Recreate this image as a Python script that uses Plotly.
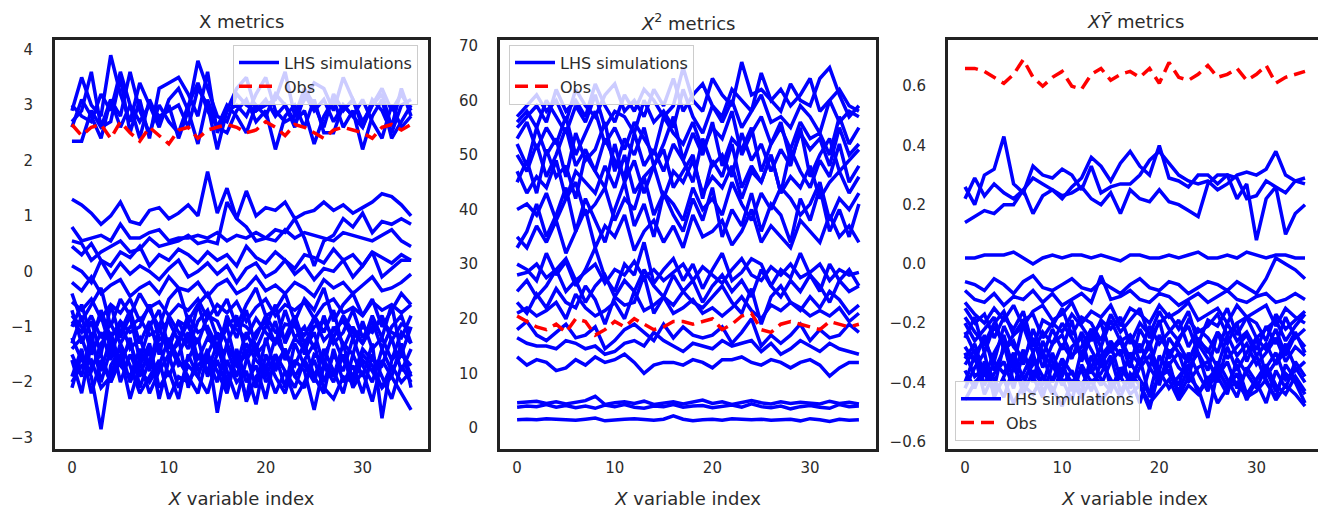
import plotly.graph_objects as go

x_index = list(range(36))
x_ticks = [0, 10, 20, 30]

# ---------------- Panel 1: X metrics ----------------
x_sims = [
    [2.9,3.5,3.0,2.8,3.9,3.2,2.7,3.4,3.0,2.6,3.1,3.3,2.9,3.8,3.3,2.8,2.7,3.2,3.0,2.9,3.1,2.8,3.0,2.6,3.2,2.9,3.1,2.7,3.0,2.8,2.6,3.1,2.9,2.5,3.0,3.1],
    [2.35,2.35,2.9,2.6,2.7,3.5,2.5,3.1,2.4,3.3,3.4,3.5,3.2,2.8,3.6,2.5,2.9,3.0,2.8,3.2,3.5,2.9,2.7,2.8,3.3,3.0,2.6,3.2,2.9,3.1,2.7,3.0,3.2,2.6,3.3,2.8],
    [2.7,2.9,3.6,2.6,3.1,2.8,3.6,2.9,2.5,3.0,2.7,2.5,3.0,3.4,2.9,2.6,2.5,2.9,3.1,2.7,2.9,2.2,2.8,3.0,2.6,3.1,2.5,2.5,3.0,2.8,3.1,2.7,2.4,3.0,2.6,2.8],
    [3.0,2.8,2.7,3.2,2.9,3.6,3.0,2.7,3.0,2.8,2.9,3.0,2.6,3.3,3.0,2.2,2.9,3.3,3.5,2.9,3.0,3.1,3.6,2.8,3.1,3.4,3.3,2.9,3.5,3.1,2.6,3.0,3.3,2.9,3.2,2.9],
    [2.6,3.1,2.8,2.4,3.1,2.6,3.0,2.4,3.1,2.7,3.0,2.4,2.9,2.3,3.1,2.6,3.0,2.8,2.5,3.0,2.8,3.2,3.0,2.7,2.9,2.3,2.8,3.1,2.6,2.9,2.2,2.8,3.1,2.4,2.7,3.0],
    [1.3,1.2,1.05,0.85,1.0,1.25,0.9,0.85,1.1,1.15,0.95,1.05,1.2,1.0,1.8,1.05,1.5,0.95,1.45,1.0,1.15,1.1,1.25,0.95,1.05,1.1,1.25,1.1,1.2,1.05,1.15,1.25,1.4,1.35,1.2,1.0],
    [0.8,0.55,0.6,0.65,0.55,0.85,0.6,0.6,0.7,0.75,0.55,0.6,0.6,0.65,0.6,0.7,0.55,0.65,0.6,0.7,0.6,0.55,0.75,0.6,0.7,0.65,0.6,0.55,0.7,0.65,0.6,0.55,0.65,0.75,0.55,0.45],
    [0.55,0.5,0.2,0.35,0.45,0.55,0.35,0.4,0.6,0.45,0.5,0.55,0.65,0.5,0.55,0.5,1.25,0.95,0.8,0.55,0.6,0.75,0.7,0.95,0.6,0.1,0.55,0.65,0.95,0.8,1.05,0.7,0.9,0.85,0.95,0.85],
    [0.45,0.3,0.5,0.2,0.1,0.35,0.25,0.45,0.1,0.3,0.2,0.4,0.3,0.15,0.35,0.2,0.3,0.1,0.45,0.25,0.15,0.35,0.2,0.05,0.3,0.25,0.15,0.4,0.2,0.3,0.1,0.35,0.25,0.15,0.3,0.2],
    [0.1,0.0,-0.2,0.2,-0.1,0.15,-0.05,0.1,0.0,-0.15,0.05,0.2,-0.1,0.0,0.15,-0.05,0.1,-0.2,0.05,0.15,-0.1,0.0,0.2,-0.05,0.1,-0.15,0.05,0.0,0.2,-0.1,0.1,0.35,-0.1,0.05,0.2,0.2],
    [-0.2,-0.35,-0.1,-0.4,-0.25,-0.15,-0.45,-0.3,-0.2,-0.4,-0.1,-0.3,-0.35,-0.2,-0.45,-0.25,-0.15,-0.4,-0.3,-0.1,-0.35,-0.25,-0.4,-0.2,-0.3,-0.45,-0.15,-0.3,-0.2,-0.4,-0.25,-0.1,-0.35,-0.3,-0.2,-0.05],
    [-0.55,-0.7,-0.5,-0.85,-0.6,-0.75,-0.5,-0.9,-0.65,-0.55,-0.8,-0.6,-0.7,-0.5,-0.85,-0.6,-0.75,-0.55,-0.9,-0.65,-0.5,-0.8,-0.6,-0.7,-0.55,-0.85,-0.6,-0.5,-0.75,-0.65,-0.8,-0.55,-0.7,-0.6,-0.75,-0.6],
    [-0.9,-1.1,-0.8,-1.2,-0.95,-1.3,-1.0,-0.85,-1.15,-1.05,-0.9,-1.25,-0.8,-1.1,-1.0,-1.35,-0.9,-1.05,-1.2,-0.85,-1.1,-1.3,-0.95,-1.0,-1.15,-0.85,-1.25,-1.05,-0.9,-1.2,-1.0,-1.1,-0.8,-1.25,-0.95,-1.05],
    [-1.3,-0.8,-1.5,-1.1,-1.6,-0.9,-1.4,-1.2,-1.7,-1.0,-1.5,-1.3,-0.9,-1.6,-1.2,-1.4,-1.0,-1.7,-1.1,-1.5,-1.3,-0.9,-1.6,-1.2,-1.4,-1.1,-1.7,-1.0,-1.3,-1.5,-0.9,-1.4,-1.2,-1.6,-1.1,-1.3],
    [-2.1,-1.5,-1.9,-2.85,-1.7,-1.4,-2.0,-1.6,-2.2,-1.8,-1.5,-2.1,-1.7,-1.9,-1.4,-2.55,-1.6,-2.0,-1.8,-2.4,-1.5,-1.9,-2.2,-1.6,-1.8,-2.5,-1.7,-2.0,-1.5,-2.1,-1.8,-2.35,-1.6,-1.9,-2.2,-2.5],
    [-1.6,-2.2,-1.3,-1.8,-1.2,-2.0,-1.5,-1.9,-1.4,-2.3,-1.6,-1.2,-2.1,-1.5,-1.8,-1.3,-2.0,-1.6,-2.3,-1.4,-1.9,-1.5,-2.1,-1.3,-1.7,-2.0,-1.4,-1.8,-2.2,-1.5,-1.9,-1.3,-2.65,-1.6,-1.4,-1.9],
    [-0.7,-1.3,-0.9,-1.5,-0.6,-1.2,-0.8,-1.6,-1.0,-0.7,-1.4,-0.9,-1.3,-0.6,-1.1,-1.5,-0.8,-1.2,-0.7,-1.4,-1.0,-0.6,-1.3,-0.9,-1.5,-0.8,-1.1,-0.7,-1.4,-1.0,-1.3,-0.8,-1.2,-0.6,-1.5,-1.0],
    [-1.9,-1.4,-2.2,-1.6,-2.0,-1.5,-2.3,-1.7,-1.3,-2.1,-1.8,-2.3,-1.5,-1.9,-2.2,-1.6,-2.1,-1.4,-2.0,-1.7,-2.3,-1.5,-1.8,-2.1,-1.6,-1.9,-2.2,-1.4,-2.0,-1.7,-2.2,-1.5,-1.9,-2.3,-1.7,-2.0],
    [-1.0,-0.6,-1.2,-0.8,-1.4,-1.1,-0.7,-1.3,-0.9,-1.5,-0.8,-1.1,-1.4,-0.9,-0.7,-1.2,-1.0,-0.8,-1.5,-1.1,-0.9,-1.3,-0.7,-1.2,-1.0,-1.4,-0.8,-1.3,-1.1,-0.7,-1.2,-0.9,-1.4,-1.0,-0.8,-1.3],
    [-1.5,-1.9,-1.1,-2.0,-1.4,-1.7,-1.2,-2.1,-1.6,-1.3,-1.9,-1.5,-1.1,-1.8,-1.6,-2.0,-1.3,-1.7,-1.5,-2.1,-1.2,-1.8,-1.4,-1.9,-1.6,-1.3,-2.0,-1.5,-1.8,-1.2,-1.7,-2.0,-1.4,-1.8,-1.5,-1.7],
    [-0.4,-0.9,-0.6,-0.3,-1.0,-0.5,-0.8,-0.4,-0.7,-1.0,-0.5,-0.3,-0.9,-0.6,-0.4,-0.8,-0.5,-1.0,-0.6,-0.3,-0.8,-0.7,-0.4,-0.9,-0.5,-0.7,-0.3,-0.9,-0.6,-0.4,-0.8,-0.5,-1.0,-0.7,-0.4,-0.6],
    [-1.2,-1.6,-1.8,-1.3,-1.1,-1.7,-1.9,-1.4,-1.8,-1.2,-1.3,-1.7,-1.6,-1.2,-1.9,-1.5,-1.4,-1.9,-1.3,-1.6,-1.8,-1.2,-1.5,-1.7,-1.3,-1.9,-1.5,-1.2,-1.6,-1.9,-1.4,-1.6,-1.7,-1.2,-1.8,-1.4],
    [-2.0,-1.7,-1.6,-2.1,-1.9,-1.3,-1.7,-2.2,-1.9,-1.6,-2.3,-1.9,-2.0,-1.7,-1.5,-1.8,-2.2,-1.5,-2.35,-1.9,-1.7,-2.2,-1.8,-2.3,-2.0,-1.6,-2.1,-2.3,-1.9,-2.0,-1.6,-1.8,-2.1,-1.7,-2.0,-1.8],
    [-0.8,-1.0,-1.3,-0.7,-1.2,-0.9,-1.1,-1.0,-0.6,-1.2,-1.3,-0.9,-1.0,-1.3,-0.8,-0.9,-1.3,-0.9,-1.0,-1.2,-0.8,-1.1,-1.2,-0.8,-1.3,-1.0,-0.9,-1.2,-0.8,-1.1,-1.3,-1.0,-0.9,-1.1,-1.2,-0.8],
    [-1.4,-1.2,-1.7,-1.5,-2.0,-1.6,-1.3,-1.8,-2.0,-1.7,-1.2,-1.6,-1.9,-2.2,-1.5,-1.1,-1.8,-2.3,-1.6,-1.3,-2.0,-1.7,-1.4,-1.9,-2.1,-1.5,-1.6,-1.9,-1.3,-2.0,-1.5,-1.7,-2.1,-1.9,-1.3,-2.1],
]
x_obs = [2.65,2.45,2.6,2.65,2.4,2.7,2.5,2.35,2.6,2.45,2.3,2.55,2.6,2.4,2.55,2.6,2.65,2.6,2.5,2.55,2.7,2.6,2.45,2.65,2.6,2.5,2.4,2.55,2.6,2.55,2.5,2.4,2.6,2.65,2.55,2.65]

# ---------------- Panel 2: X^2 metrics ----------------
x2_sims = [
    [1.5,1.6,1.5,1.7,1.6,1.5,1.4,1.6,1.8,1.3,1.5,1.6,1.7,1.5,1.4,1.6,2.2,1.6,1.3,1.5,1.6,1.4,1.7,1.6,1.5,1.6,1.4,1.5,1.6,1.3,1.7,1.5,1.2,1.6,1.4,1.5],
    [3.8,4.0,3.9,4.3,3.8,4.1,3.7,4.0,3.6,4.2,3.9,4.3,3.8,3.6,4.0,3.9,4.3,3.8,4.0,4.1,3.7,3.9,4.2,3.8,4.4,3.9,3.7,4.0,3.5,3.9,4.1,3.8,3.6,4.3,3.9,4.0],
    [4.6,4.8,4.9,4.5,4.8,4.4,4.7,5.0,5.8,4.3,4.6,4.8,4.5,4.9,4.3,4.6,4.8,4.4,4.7,5.1,4.5,4.8,4.3,4.7,5.0,4.6,4.4,4.8,4.5,4.7,4.6,4.4,4.9,4.5,4.7,4.4],
    [13,11.5,12.5,12,10.5,11,12.5,11.5,13,12,12.5,13.5,12,10,11.5,12,12,11.5,12.5,12,11,12.5,12.5,13,12,11.5,12.5,12,11,12,12.5,11.5,9.5,11,12,12],
    [16.5,15.5,15,15,14.5,16,15.5,14.5,15,13.5,14,15.5,16,15,17.5,16,15,14,15.5,15,14.5,16,15,15.5,16,14,15.5,13.5,14.5,16,15,14,15.5,14.5,14,13.5],
    [18,19.5,17,16,17.5,19,16.5,17,18.5,14.5,16,18,19,17.5,16,19,16.5,18.5,17,16.5,17,18.5,15.5,17.5,20,15,17,15.5,17,19,16,18,16.5,17,19,17.5],
    [21,22,20.5,21.5,23,20,24.5,22,20.5,21.5,23,20,25,21.5,22.5,24,21,22,23.5,21,22,20.5,22,24,21.5,20,22.5,21.5,23,22,20.5,21.5,20.5,22,19.5,21],
    [23,21,24.5,22,25.5,23,22,26,23.5,19,24,22.5,23,28,21,24,22.5,25,23,22,24,26,23,21,25.5,19,24,26,23,21.5,24,22,25,23.5,21,22.5],
    [28,28.5,30,27.5,29,31,27,28.5,30,26.5,29,28,30.5,27.5,29,27,28.5,30,27,29.5,28,26.5,29,31,28,27,29.5,28,30,27.5,28.5,30,27,29,28,28.5],
    [30,29,27,32,28,30.5,26,29,33,27.5,25,30,28,34,26.5,29,31,27,30,25.5,29,32,27,28.5,31,30,26,29,27.5,32,28,25,30,27,29,26],
    [35,33,37,34,38,32,36,40,33,37,35,39,32.5,36,38,34,37,33,39,35,36,38,33.5,36,40,34,37,35,33,38,36,34,39,35,37,34],
    [40,41,39,43,38,42,45,39,41,44,38,42,40,46,39,43,41,38,44,40,42,39,45,41,38,43,40,44,42,39,41,45,38,42,40,43],
    [47,43,46,44,49,42,47,45,43,48,44,50,43,46,48,42,47,45,49,43,46,44,48,42,47,45,50,43,46,44,48,42,45,47,43,46],
    [50,47,52,46,50,55,48,51,47,53,49,46,54,48,51,47,52,49,45,53,48,50,46,54,49,52,47,51,48,55,46,50,53,47,49,51],
    [53,56,51,55,52,57,50,54,58,52,55,51,56,53,50,57,54,52,56,51,55,53,58,50,54,57,52,55,51,56,53,54,50,57,52,55],
    [56,58,55,60,57,54,59,56,61,55,58,57,54,60,56,58,55,62,57,54,59,56,60,55,58,61,56,57,55,59,57,54,60,56,58,57],
    [55,57,59,56,62,58,60,57,63,59,56,61,58,62,60,57,59,66,60,58,64,61,59,67,61,62,60,58,63,60,59,64,66,61,57,59],
    [52,48,55,50,53,46,54,49,51,56,47,53,50,55,48,52,57,49,54,50,56,48,53,51,55,47,52,56,49,54,51,53,48,55,50,52],
    [33,36,41,35,39,44,36,42,38,34,40,45,37,41,35,43,39,36,42,38,44,35,40,37,43,36,41,39,34,42,38,44,36,40,35,41],
    [25,27,24,26,29,25,27,23,26,28,24,27,25,29,26,24,28,25,27,23,26,28,25,27,24,29,26,24,27,25,28,26,23,27,25,26],
    [45,49,43,51,46,48,42,50,47,44,52,45,49,43,48,51,44,47,50,42,49,46,52,44,48,45,50,43,51,47,44,49,46,52,45,48],
    [57,59,61,58,60,56,62,59,57,61,63,58,60,57,62,59,64,58,61,63,59,57,62,60,58,65,60,62,59,61,64,58,60,62,59,58],
]
x2_obs = [20.5,19.5,18.5,18.0,19,17.5,20,19.5,17,18,19.5,18.5,20,19,18,18.5,19.5,19.5,19,19.5,20,18,19,20.5,21,18,17.5,19,19.5,19,18.5,18,19.5,19,18.5,19]

# ---------------- Panel 3: XY-bar metrics ----------------
xy_sims = [
    [0.26,0.2,0.3,0.32,0.43,0.27,0.24,0.33,0.3,0.29,0.32,0.3,0.25,0.33,0.24,0.26,0.27,0.27,0.3,0.35,0.38,0.34,0.3,0.28,0.27,0.28,0.25,0.27,0.3,0.31,0.3,0.32,0.38,0.3,0.28,0.27],
    [0.22,0.29,0.23,0.27,0.24,0.22,0.25,0.29,0.27,0.25,0.22,0.26,0.29,0.36,0.33,0.28,0.34,0.38,0.33,0.3,0.4,0.29,0.28,0.26,0.3,0.3,0.27,0.3,0.29,0.22,0.23,0.28,0.26,0.24,0.28,0.29],
    [0.14,0.16,0.18,0.17,0.2,0.2,0.25,0.17,0.23,0.25,0.23,0.24,0.26,0.22,0.2,0.24,0.17,0.25,0.22,0.21,0.25,0.21,0.2,0.18,0.16,0.27,0.3,0.3,0.22,0.27,0.08,0.22,0.26,0.1,0.17,0.2],
    [0.02,0.02,0.03,0.03,0.03,0.04,0.02,0.0,0.02,0.03,0.02,0.03,0.03,0.02,0.03,0.02,0.01,0.03,0.03,0.02,0.02,0.03,0.02,0.03,0.04,0.02,0.02,0.03,0.02,0.04,0.03,0.02,0.03,0.03,0.02,0.02],
    [-0.06,-0.07,-0.09,-0.05,-0.07,-0.1,-0.06,-0.04,-0.08,-0.09,-0.07,-0.05,-0.08,-0.09,-0.06,-0.08,-0.1,-0.07,-0.05,-0.08,-0.09,-0.06,-0.07,-0.1,-0.08,-0.06,-0.07,-0.09,-0.06,-0.08,-0.1,-0.05,0.02,0.0,-0.02,-0.05],
    [-0.09,-0.12,-0.13,-0.1,-0.14,-0.11,-0.12,-0.09,-0.13,-0.1,-0.14,-0.12,-0.1,-0.13,-0.04,-0.12,-0.11,-0.09,-0.12,-0.13,-0.1,-0.11,-0.14,-0.12,-0.1,-0.13,-0.11,-0.09,-0.12,-0.13,-0.11,-0.1,-0.13,-0.12,-0.1,-0.12],
    [-0.15,-0.2,-0.17,-0.25,-0.18,-0.22,-0.16,-0.28,-0.19,-0.21,-0.15,-0.24,-0.18,-0.2,-0.26,-0.17,-0.23,-0.19,-0.15,-0.25,-0.2,-0.17,-0.22,-0.16,-0.27,-0.19,-0.21,-0.15,-0.24,-0.18,-0.2,-0.26,-0.17,-0.22,-0.19,-0.16],
    [-0.25,-0.18,-0.3,-0.21,-0.27,-0.34,-0.2,-0.26,-0.31,-0.22,-0.29,-0.19,-0.33,-0.24,-0.2,-0.3,-0.26,-0.35,-0.22,-0.28,-0.19,-0.32,-0.25,-0.21,-0.3,-0.36,-0.23,-0.27,-0.2,-0.33,-0.25,-0.29,-0.22,-0.31,-0.24,-0.28],
    [-0.32,-0.27,-0.38,-0.3,-0.24,-0.36,-0.29,-0.4,-0.26,-0.33,-0.38,-0.28,-0.25,-0.37,-0.31,-0.27,-0.39,-0.3,-0.34,-0.26,-0.41,-0.29,-0.35,-0.38,-0.27,-0.32,-0.4,-0.28,-0.36,-0.3,-0.25,-0.38,-0.33,-0.27,-0.35,-0.4],
    [-0.42,-0.35,-0.3,-0.45,-0.38,-0.32,-0.44,-0.36,-0.41,-0.3,-0.39,-0.46,-0.34,-0.4,-0.37,-0.31,-0.43,-0.38,-0.47,-0.35,-0.4,-0.33,-0.45,-0.38,-0.42,-0.52,-0.36,-0.41,-0.34,-0.44,-0.39,-0.36,-0.43,-0.37,-0.4,-0.47],
    [-0.2,-0.26,-0.22,-0.18,-0.29,-0.24,-0.21,-0.3,-0.23,-0.27,-0.2,-0.25,-0.31,-0.22,-0.28,-0.19,-0.26,-0.24,-0.3,-0.21,-0.27,-0.23,-0.19,-0.28,-0.22,-0.25,-0.3,-0.2,-0.26,-0.23,-0.29,-0.21,-0.27,-0.18,-0.25,-0.22],
    [-0.36,-0.42,-0.33,-0.39,-0.45,-0.35,-0.41,-0.32,-0.38,-0.44,-0.35,-0.4,-0.36,-0.43,-0.33,-0.39,-0.45,-0.37,-0.41,-0.49,-0.36,-0.42,-0.38,-0.34,-0.44,-0.39,-0.35,-0.42,-0.37,-0.46,-0.39,-0.34,-0.41,-0.44,-0.38,-0.43],
    [-0.28,-0.33,-0.24,-0.36,-0.29,-0.26,-0.34,-0.22,-0.3,-0.35,-0.27,-0.32,-0.23,-0.29,-0.35,-0.26,-0.31,-0.24,-0.33,-0.28,-0.36,-0.25,-0.3,-0.33,-0.26,-0.29,-0.35,-0.24,-0.31,-0.27,-0.34,-0.3,-0.25,-0.33,-0.28,-0.31],
    [-0.18,-0.23,-0.27,-0.2,-0.16,-0.24,-0.19,-0.17,-0.25,-0.2,-0.23,-0.17,-0.21,-0.26,-0.19,-0.22,-0.18,-0.27,-0.2,-0.24,-0.16,-0.22,-0.26,-0.19,-0.23,-0.21,-0.17,-0.24,-0.2,-0.18,-0.25,-0.22,-0.19,-0.26,-0.21,-0.17],
    [-0.4,-0.31,-0.44,-0.37,-0.33,-0.42,-0.3,-0.38,-0.45,-0.34,-0.41,-0.36,-0.44,-0.31,-0.39,-0.43,-0.35,-0.4,-0.32,-0.45,-0.38,-0.36,-0.41,-0.3,-0.37,-0.43,-0.33,-0.39,-0.45,-0.35,-0.4,-0.47,-0.36,-0.42,-0.33,-0.38],
    [-0.3,-0.38,-0.35,-0.42,-0.27,-0.4,-0.37,-0.3,-0.43,-0.39,-0.32,-0.37,-0.41,-0.35,-0.28,-0.42,-0.36,-0.33,-0.39,-0.44,-0.31,-0.37,-0.43,-0.35,-0.3,-0.41,-0.38,-0.33,-0.42,-0.36,-0.31,-0.4,-0.45,-0.34,-0.39,-0.44],
    [-0.13,-0.17,-0.2,-0.15,-0.19,-0.14,-0.21,-0.16,-0.14,-0.19,-0.17,-0.13,-0.2,-0.16,-0.18,-0.14,-0.21,-0.15,-0.17,-0.2,-0.14,-0.18,-0.16,-0.13,-0.19,-0.17,-0.15,-0.2,-0.14,-0.18,-0.16,-0.14,-0.21,-0.15,-0.18,-0.2],
    [-0.46,-0.4,-0.37,-0.43,-0.39,-0.47,-0.41,-0.44,-0.38,-0.42,-0.48,-0.4,-0.45,-0.39,-0.46,-0.42,-0.38,-0.44,-0.41,-0.47,-0.43,-0.39,-0.46,-0.41,-0.44,-0.38,-0.47,-0.42,-0.4,-0.45,-0.43,-0.39,-0.46,-0.41,-0.44,-0.48],
    [-0.23,-0.3,-0.26,-0.33,-0.21,-0.28,-0.32,-0.25,-0.35,-0.27,-0.24,-0.31,-0.28,-0.22,-0.33,-0.29,-0.25,-0.32,-0.27,-0.35,-0.24,-0.3,-0.27,-0.33,-0.25,-0.3,-0.23,-0.32,-0.28,-0.24,-0.31,-0.27,-0.34,-0.29,-0.23,-0.3],
    [-0.34,-0.29,-0.41,-0.33,-0.37,-0.3,-0.39,-0.34,-0.31,-0.4,-0.33,-0.43,-0.29,-0.36,-0.41,-0.33,-0.29,-0.42,-0.35,-0.31,-0.39,-0.34,-0.3,-0.4,-0.35,-0.33,-0.38,-0.44,-0.32,-0.37,-0.42,-0.35,-0.3,-0.39,-0.36,-0.33],
]
xy_obs = [0.66,0.66,0.65,0.63,0.61,0.64,0.69,0.63,0.6,0.63,0.65,0.6,0.59,0.64,0.66,0.62,0.64,0.65,0.63,0.66,0.61,0.68,0.63,0.62,0.64,0.67,0.63,0.64,0.66,0.62,0.64,0.67,0.61,0.63,0.64,0.65]

titles = ["X metrics", "<i>X</i><sup>2</sup> metrics", "<i>XȲ</i> metrics"]
x_label = "<i>X</i> variable index"
y_ranges = [[-3.2, 4.18], [-3.8, 71.1], [-0.624, 0.757]]
y_tickvals = [[-3, -2, -1, 0, 1, 2, 3, 4],
              [0, 10, 20, 30, 40, 50, 60, 70],
              [-0.6, -0.4, -0.2, 0.0, 0.2, 0.4, 0.6]]
y_ticktext = [["−3", "−2", "−1", "0", "1", "2", "3", "4"],
              ["0", "10", "20", "30", "40", "50", "60", "70"],
              ["−0.6", "−0.4", "−0.2", "0.0", "0.2", "0.4", "0.6"]]

W, H = 1326, 513
OX, OY = 8, 8  # page body offset


def px(v):
    return (v - OX) / W


def py(v):
    return 1 - (v - OY) / H


x_domains = [[px(55), px(428)], [px(500), px(876)], [px(948), px(1322)]]
y_domain = [py(450), py(37)]

FONT = "DejaVu Sans"
BLUE = "#0000ff"
RED = "#ff0000"
TXT = "#2b2b2b"

fig = go.Figure()
panels = [(x_sims, x_obs), (x2_sims, x2_obs), (xy_sims, xy_obs)]
for p, (sims, obs) in enumerate(panels):
    xa = "x" if p == 0 else f"x{p+1}"
    ya = "y" if p == 0 else f"y{p+1}"
    lg = "legend" if p == 0 else f"legend{p+1}"
    for i, s in enumerate(sims):
        fig.add_trace(go.Scatter(
            x=x_index, y=s, mode="lines", xaxis=xa, yaxis=ya,
            line=dict(color=BLUE, width=3.5), name="LHS simulations",
            legendgroup=f"sim{p}", showlegend=(i == 0), legend=lg,
            hoverinfo="skip"))
    fig.add_trace(go.Scatter(
        x=x_index, y=obs, mode="lines", xaxis=xa, yaxis=ya,
        line=dict(color=RED, width=3.5, dash="13px,7px"), name="Obs",
        legendgroup=f"obs{p}", showlegend=True, legend=lg, hoverinfo="skip"))

layout = dict(
    width=W, height=H, margin=dict(l=0, r=0, t=0, b=0),
    paper_bgcolor="white", plot_bgcolor="white",
    font=dict(family=FONT, color=TXT, size=15),
)
for p in range(3):
    xk = "xaxis" if p == 0 else f"xaxis{p+1}"
    yk = "yaxis" if p == 0 else f"yaxis{p+1}"
    ya = "y" if p == 0 else f"y{p+1}"
    xa = "x" if p == 0 else f"x{p+1}"
    layout[xk] = dict(
        domain=x_domains[p], anchor=ya, range=[-1.75, 36.75],
        tickvals=x_ticks, showgrid=False, zeroline=False,
        showline=True, mirror=True, linewidth=3, linecolor="#222222",
        ticks="outside", ticklen=3, tickcolor="rgba(0,0,0,0)",
        tickfont=dict(size=15, color=TXT, family=FONT),
        title=dict(text=x_label, font=dict(size=18, color=TXT, family=FONT), standoff=17),
    )
    layout[yk] = dict(
        domain=y_domain, anchor=xa, range=y_ranges[p],
        tickvals=y_tickvals[p], ticktext=y_ticktext[p],
        showgrid=False, zeroline=False,
        showline=True, mirror=True, linewidth=3, linecolor="#222222",
        ticks="outside", ticklen=16, tickcolor="rgba(0,0,0,0)",
        tickfont=dict(size=15, color=TXT, family=FONT),
    )

legend_style = dict(bgcolor="rgba(255,255,255,0.8)", bordercolor="#cccccc",
                    borderwidth=1, font=dict(size=16, color=TXT, family=FONT),
                    tracegroupgap=0, itemwidth=40)
layout["legend"] = dict(x=px(418), y=py(42), xanchor="right", yanchor="top", **legend_style)
layout["legend2"] = dict(x=px(509), y=py(42), xanchor="left", yanchor="top", **legend_style)
layout["legend3"] = dict(x=px(955), y=py(442), xanchor="left", yanchor="bottom", **legend_style)

annotations = []
for p in range(3):
    cx = (x_domains[p][0] + x_domains[p][1]) / 2
    annotations.append(dict(text=titles[p], x=cx, y=py(19), xref="paper", yref="paper",
                            xanchor="center", yanchor="middle", showarrow=False,
                            font=dict(size=18, color=TXT, family=FONT)))
layout["annotations"] = annotations

fig.update_layout(**layout)
fig.write_html("out.html")
